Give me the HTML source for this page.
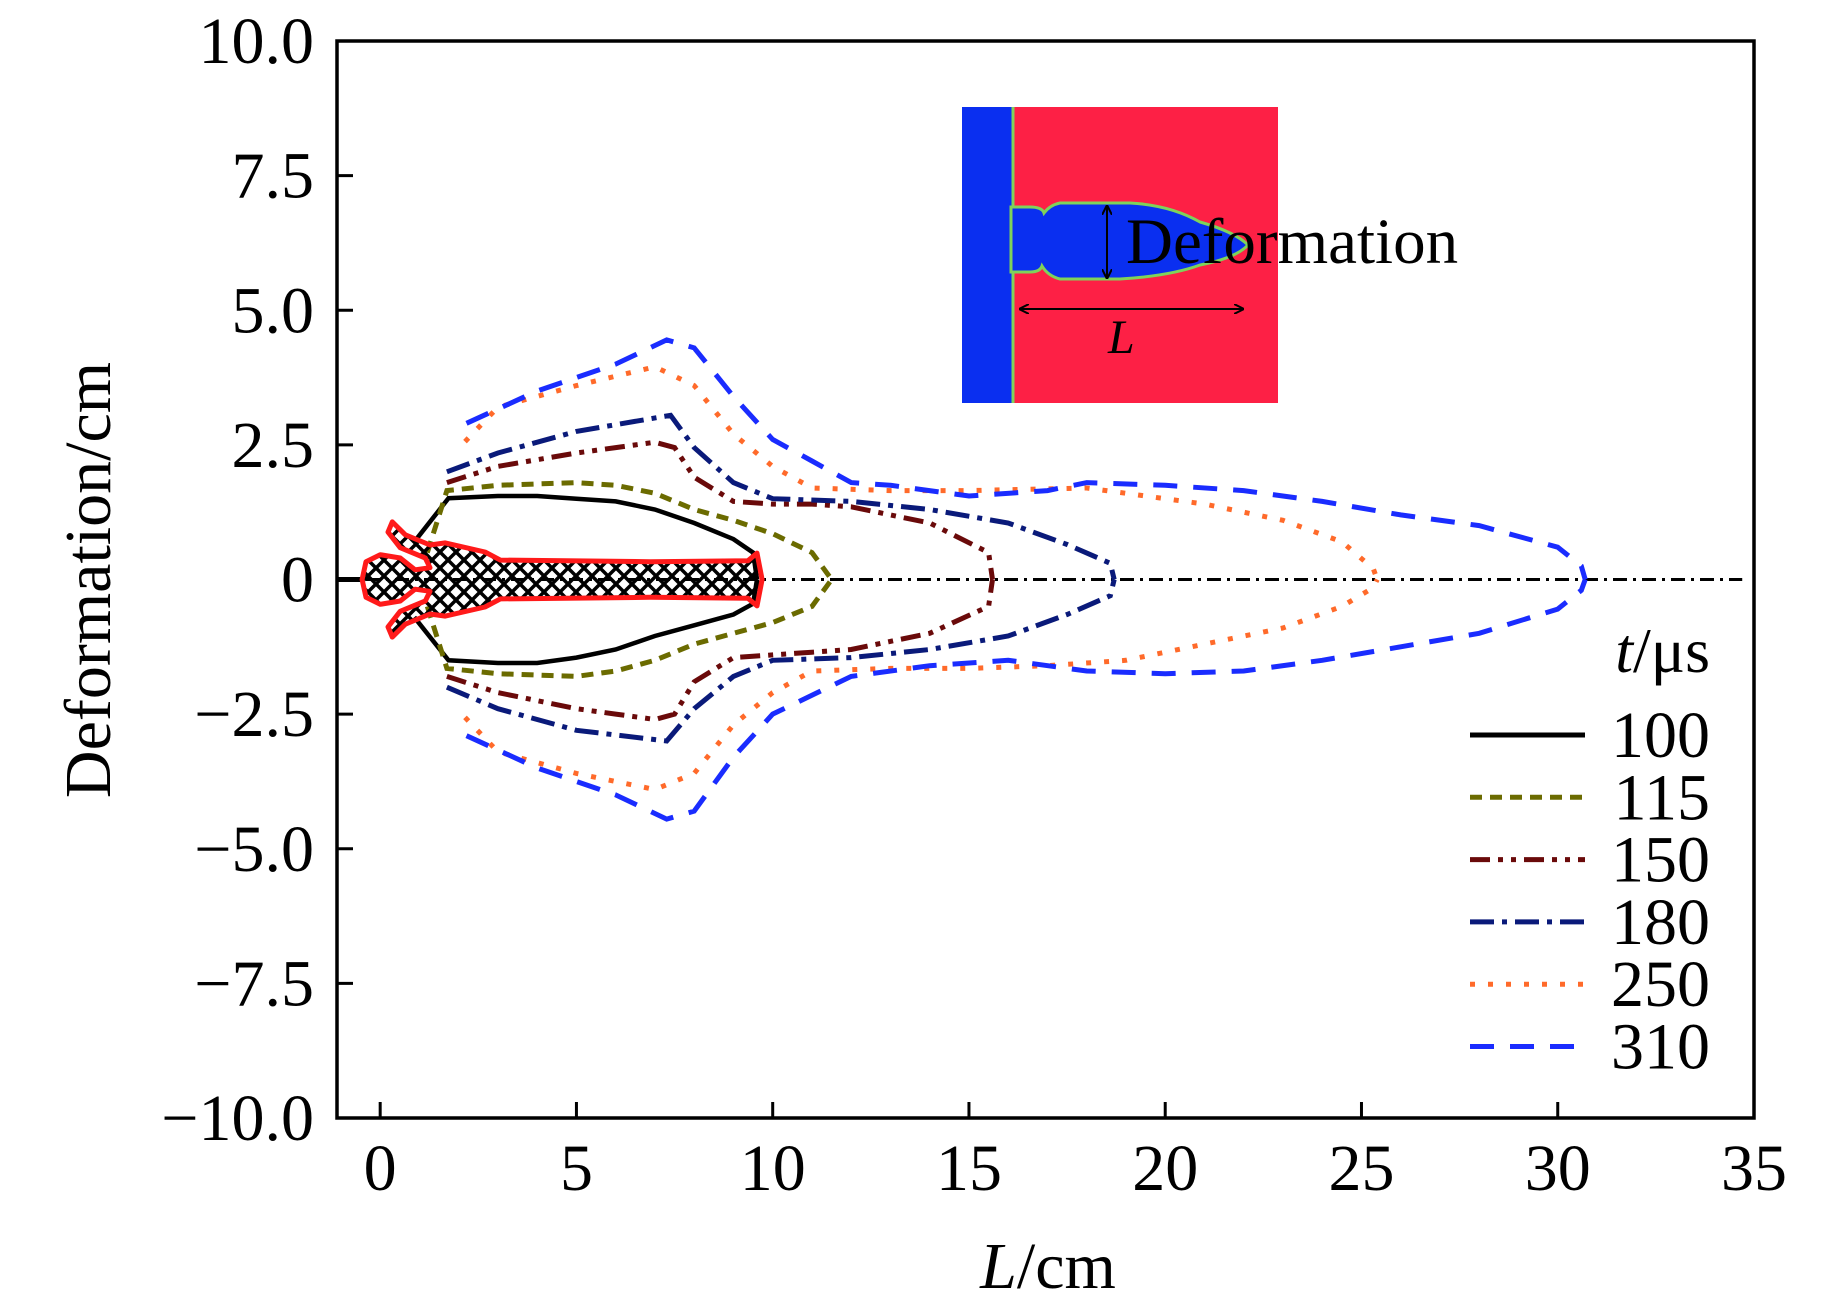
<!DOCTYPE html>
<html><head><meta charset="utf-8"><style>
html,body{margin:0;padding:0;background:#fff;}
svg{display:block;font-family:"Liberation Serif",serif;}
</style></head><body>
<svg id="chart" width="1843" height="1311" viewBox="0 0 1843 1311" xmlns="http://www.w3.org/2000/svg">
<defs>
<pattern id="hatch" patternUnits="userSpaceOnUse" width="16" height="16">
<path d="M0 0L16 16M16 0L0 16" stroke="#000" stroke-width="3.5"/>
</pattern>
<marker id="arr" markerWidth="10" markerHeight="10" refX="9" refY="5" orient="auto-start-reverse" markerUnits="userSpaceOnUse"><path d="M0 0L10 5L0 10" fill="none" stroke="#000" stroke-width="2"/></marker>
</defs>
<g id="plot"></g>
<g id="axes"></g>
<g id="inset">
<rect x="962" y="107" width="316" height="296" fill="#fd2045"/>
<rect x="962" y="107" width="51" height="296" fill="#0a2ff0"/>
<line x1="1013" y1="107" x2="1013" y2="403" stroke="#7fd35a" stroke-width="3"/>
<path d="M1011 207 L1030 207 Q1042 207 1044 213 Q1050 205 1060 203 L1130 203 Q1170 205 1200 222 Q1235 232 1248 245 Q1236 258 1200 265 Q1170 276 1120 279 L1060 279 Q1048 276 1042 266 Q1040 272 1030 272 L1011 272 Z" fill="#0a2ff0" stroke="#7fd35a" stroke-width="3"/>
<line x1="1107" y1="206" x2="1107" y2="278" stroke="#000" stroke-width="2" marker-start="url(#arr)" marker-end="url(#arr)"/>
<text x="1126" y="263" font-size="65">Deformation</text>
<line x1="1020" y1="309" x2="1243" y2="309" stroke="#000" stroke-width="2" marker-start="url(#arr)" marker-end="url(#arr)"/>
<text x="1108" y="353" font-size="48" font-style="italic">L</text>
</g>
<g id="legend"></g>
</svg>
<script>
// Chart data (cm)
const seriesNames = ["100","115","150","180","250","310"];
const colors = ["#000000","#6b6b00","#6a0a0a","#0a1a7a","#ff6a2a","#1a2cff"];
const dashes = ["", "12 8", "20 8 5 8 5 8", "24 8 5 8", "5 13", "24 16"];
const upperX = [
 [0.87,1.74,3,4,5,6,7,8,9,9.5,9.6],
 [1.2,1.7,3,5,6,7,8,9,10,11,11.5],
 [1.7,3,5,6,7,7.5,8,9,10,11,12,14,15.5,15.6],
 [1.7,3,5,7.4,8,9,10,12,14,16,17.5,18.6,18.7],
 [2.16,3,5,7,8,9,10,11,13,15,18,19,21,23,24.5,25.3,25.4],
 [2.2,4,6,7.3,8,9,10,11,12,13,15,17,18,20,22,24,26,28,30,30.6,30.7]
];
const upperY = [
 [0.7,1.51,1.55,1.55,1.5,1.45,1.3,1.05,0.75,0.5,0],
 [0.5,1.65,1.75,1.8,1.75,1.6,1.3,1.1,0.85,0.5,0],
 [1.8,2.1,2.35,2.45,2.55,2.45,1.9,1.45,1.4,1.4,1.35,1.05,0.5,0],
 [2.0,2.35,2.75,3.05,2.45,1.8,1.5,1.45,1.3,1.05,0.65,0.3,0],
 [2.56,3.2,3.6,3.95,3.6,2.7,2.1,1.7,1.65,1.65,1.7,1.6,1.4,1.1,0.7,0.2,0],
 [2.9,3.5,4.0,4.45,4.3,3.4,2.6,2.2,1.8,1.75,1.55,1.65,1.8,1.75,1.65,1.45,1.2,1.0,0.6,0.25,0]
];
const lowerX = [
 [0.87,1.74,3,4,5,6,7,8,9,9.5,9.6],
 [1.2,1.7,3,5,6,7,8,9,10,11,11.5],
 [1.7,3,5,6,7,7.5,8,9,10,11,12,14,15.5,15.6],
 [1.7,3,5,7.3,8,9,10,12,14,16,17.5,18.6,18.7],
 [2.16,3,5,7,8,9,10,11,13,15,17,19,21,23,24.5,25.3,25.4],
 [2.2,4,6,7.3,8,9,10,12,14,16,18,20,22,24,26,28,30,30.6,30.7]
];
const lowerY = [
 [-0.7,-1.5,-1.55,-1.55,-1.45,-1.3,-1.05,-0.85,-0.65,-0.45,0],
 [-0.5,-1.65,-1.75,-1.8,-1.7,-1.5,-1.2,-1.0,-0.8,-0.5,0],
 [-1.8,-2.1,-2.4,-2.5,-2.6,-2.5,-1.9,-1.45,-1.4,-1.35,-1.3,-1.0,-0.5,0],
 [-2.0,-2.4,-2.8,-3.0,-2.4,-1.8,-1.5,-1.45,-1.3,-1.05,-0.65,-0.3,0],
 [-2.56,-3.2,-3.6,-3.9,-3.6,-2.7,-2.1,-1.7,-1.65,-1.65,-1.6,-1.5,-1.2,-0.9,-0.5,-0.15,0],
 [-2.9,-3.5,-4.0,-4.45,-4.3,-3.3,-2.5,-1.8,-1.6,-1.5,-1.7,-1.75,-1.7,-1.5,-1.25,-1.0,-0.55,-0.2,0]
];
const jetX = [9.6,9.37,6.88,3.06,2.67,1.66,1.27,0.64,0.31,0.2,0.51,1.15,1.27,0.89,0.51,0,-0.36,-0.46];
const jetY = [0.49,0.35,0.33,0.36,0.51,0.68,0.64,0.83,1.07,0.88,0.59,0.4,0.22,0.18,0.4,0.46,0.33,0];
const jetTipX = 9.73;
const xTicks = [0,5,10,15,20,25,30,35];
const yTicks = [10,7.5,5,2.5,0,-2.5,-5,-7.5,-10];
const yTickLabels = ["10.0","7.5","5.0","2.5","0","\u22122.5","\u22125.0","\u22127.5","\u221210.0"];

const X0=337, X1=1754, Y0=41, Y1=1118;
const xMin=-1.1, xMax=35, yMin=-10, yMax=10;
const sx = v => X0 + (v - xMin) / (xMax - xMin) * (X1 - X0);
const sy = v => Y1 - (v - yMin) / (yMax - yMin) * (Y1 - Y0);
const NS="http://www.w3.org/2000/svg";
function mk(tag, attrs, parent){const e=document.createElementNS(NS,tag);for(const k in attrs)e.setAttribute(k,attrs[k]);parent.appendChild(e);return e;}
const plot=document.getElementById('plot'), axes=document.getElementById('axes'), legend=document.getElementById('legend');

let cl = mk('line',{x1:sx(xMin),y1:sy(0),x2:sx(34.7),y2:sy(0),stroke:'#000','stroke-width':3,'stroke-dasharray':'14 6 3 6'},plot);


let cl2 = mk('line',{x1:sx(xMin),y1:sy(0),x2:sx(-0.4),y2:sy(0),stroke:'#000','stroke-width':5},plot);



for(let i=0;i<seriesNames.length;i++){
  let d='';
  for(let j=0;j<upperX[i].length;j++) d+=(j?'L':'M')+sx(upperX[i][j]).toFixed(1)+' '+sy(upperY[i][j]).toFixed(1);
  let d2='';
  for(let j=0;j<lowerX[i].length;j++) d2+=(j?'L':'M')+sx(lowerX[i][j]).toFixed(1)+' '+sy(lowerY[i][j]).toFixed(1);
  const a={d:d+d2,fill:'none',stroke:colors[i],'stroke-width':i===0?4.5:5};
  if(dashes[i]) a['stroke-dasharray']=dashes[i];
  const p=mk('path',a,plot);
  
  
}

{
  let pts=[];
  for(let j=0;j<jetX.length;j++) pts.push([jetX[j],jetY[j]]);
  for(let j=jetX.length-2;j>=0;j--) pts.push([jetX[j],-jetY[j]]);
  let d='M'+sx(jetTipX)+' '+sy(0);
  pts.forEach(p=>{d+='L'+sx(p[0]).toFixed(1)+' '+sy(p[1]).toFixed(1);});
  d+='Z';
  const j=mk('path',{d:d,fill:'url(#hatch)',stroke:'#ff1a1a','stroke-width':5,'stroke-linejoin':'round'},plot);
  
  
}

const fr=mk('rect',{x:X0,y:Y0,width:X1-X0,height:Y1-Y0,fill:'none',stroke:'#000','stroke-width':3.5},axes);


xTicks.forEach(t=>{
  const tk=mk('line',{x1:sx(t),x2:sx(t),y1:Y1,y2:Y1-16,stroke:'#000','stroke-width':3},axes);
  
  
  const tl=mk('text',{x:sx(t),y:1190,'font-size':66,'text-anchor':'middle'},axes);
  tl.textContent=t;
  
  
});
yTicks.forEach((t,i)=>{
  const tk=mk('line',{x1:X0,x2:X0+16,y1:sy(t),y2:sy(t),stroke:'#000','stroke-width':3},axes);
  
  
  const tl=mk('text',{x:314,y:sy(t)+22,'font-size':66,'text-anchor':'end'},axes);
  tl.textContent=yTickLabels[i];
  
  
});
const xt=mk('text',{x:1048,y:1288,'font-size':66,'text-anchor':'middle'},axes);
xt.innerHTML='<tspan font-style="italic">L</tspan>/cm';


const yt=mk('text',{x:0,y:0,'font-size':66,'text-anchor':'middle',transform:'translate(110,580) rotate(-90)'},axes);
yt.textContent='Deformation/cm';



const lt=mk('text',{x:1710,y:672,'font-size':64,'text-anchor':'end'},legend);
lt.innerHTML='<tspan font-style="italic">t</tspan>/\u03bcs';


seriesNames.forEach((n,i)=>{
  const y=735+i*62.3;
  const a={x1:1470,x2:1585,y1:y,y2:y,stroke:colors[i],'stroke-width':5};
  if(dashes[i]) a['stroke-dasharray']=dashes[i];
  const l=mk('line',a,legend);
  
  
  const t=mk('text',{x:1710,y:y+22,'font-size':66,'text-anchor':'end'},legend);
  t.textContent=n;
  
  
});
</script>
</body></html>
